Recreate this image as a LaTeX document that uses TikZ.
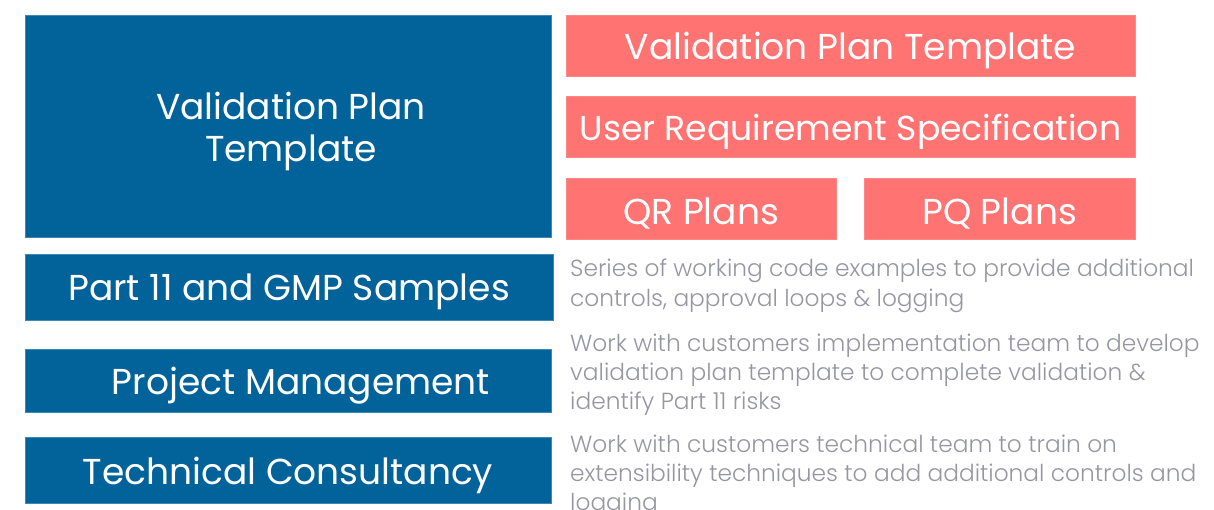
\documentclass[tikz,border=0pt]{standalone}
\usepackage{fontspec}
\setmainfont{Poppins}
\newfontfamily\descfont{Poppins Light}
\definecolor{deepblue}{HTML}{02639A}
\definecolor{edgeblue}{HTML}{3F88B6}
\definecolor{salmon}{HTML}{FF7372}
\definecolor{softgrey}{HTML}{9696A2}
\begin{document}
\begin{tikzpicture}[x=1pt,y=-1pt,
  titlefont/.style={font=\fontsize{36}{42}\selectfont},
  bluebox/.style={fill=deepblue,draw=edgeblue,line width=0.6pt,inner sep=0pt},
  pinkbox/.style={fill=salmon,draw=salmon!85!white,line width=0.6pt,inner sep=0pt,
    minimum height=61pt},
  title/.style={text=white,inner sep=0pt,titlefont,align=center,yshift=-5pt},
  desc/.style={anchor=base west,inner sep=0pt,text=softgrey,align=left,
    font=\descfont\fontsize{23.3}{29}\selectfont}]
\useasboundingbox (0,0) rectangle (1214,510);
\clip (0,0) rectangle (1214,510);

% left column: offerings
\node[bluebox,minimum width=526pt,minimum height=222pt] (vpt) at (288,126) {};
\node[bluebox,minimum width=528pt,minimum height=66pt] (samples) at (289,287) {};
\node[bluebox,minimum width=526pt,minimum height=63pt] (pm) at (288,380.5) {};
\node[bluebox,minimum width=526pt,minimum height=66pt] (tc) at (288,470) {};
\node[title] (vpt-t) at ([xshift=3pt]vpt.center) {Validation Plan\\Template};
\node[title] (samples-t) at (samples.center) {Part 11 and GMP Samples};
\node[title] (pm-t) at ([xshift=13pt]pm.center) {Project Management};
\node[title] (tc-t) at (tc.center) {Technical Consultancy};

% right column: template deliverables
\node[pinkbox,minimum width=569pt] (tpl) at (850.5,45.5) {};
\node[pinkbox,minimum width=569pt] (urs) at (850.5,126.5) {};
\node[pinkbox,minimum width=270pt] (qr) at (701,208.5) {};
\node[pinkbox,minimum width=271pt] (pq) at (999.5,208.5) {};
\node[title] (tpl-t) at (tpl.center) {Validation Plan Template};
\node[title,font=\fontsize{34.6}{40}\selectfont] (urs-t) at (urs.center) {User Requirement Specification};
\node[title] (qr-t) at (qr.center) {QR Plans};
\node[title] (pq-t) at (pq.center) {PQ Plans};

% descriptions (anchored on the baseline of their last line)
\node[desc] (dsamples) at (570,306)
  {Series of working code examples to provide additional\\controls, approval loops \& logging};
\node[desc] (dpm) at (570,409)
  {Work with customers implementation team to develop\\validation plan template to complete validation \&\\identify Part 11 risks};
\node[desc] (dtc) at (570,510)
  {Work with customers technical team to train on\\extensibility techniques to add additional controls and\\logging};
\end{tikzpicture}
\end{document}
